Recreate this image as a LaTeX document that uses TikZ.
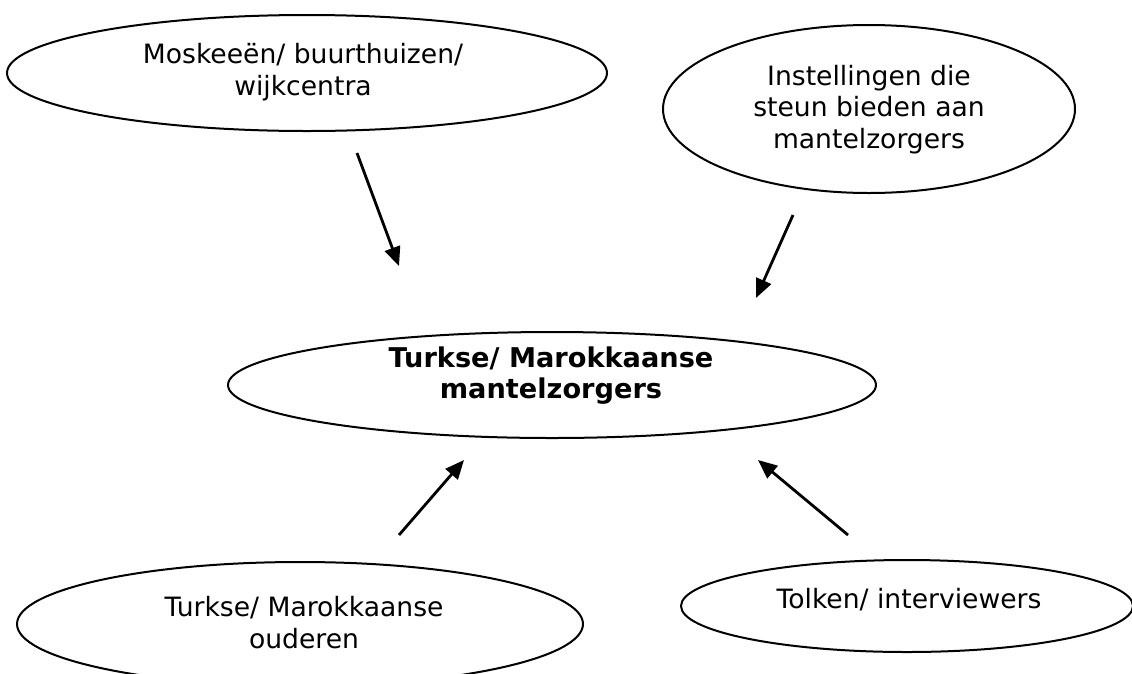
\documentclass[tikz,border=0pt]{standalone}
\usepackage{fontspec}
\setmainfont{DejaVu Sans}
\usetikzlibrary{shapes.geometric,arrows.meta}
\begin{document}
\begin{tikzpicture}[x=1pt,y=-1pt,
  oval/.style={draw=black,line width=2pt,ellipse,inner sep=0pt},
  txt/.style={inner sep=0pt,align=center,anchor=base,
    font=\fontsize{26.6}{31.5}\selectfont},
  btxt/.style={txt,font=\fontsize{27.2}{30.5}\selectfont\bfseries},
  arr/.style={line width=2.8pt,-{Triangle[length=19pt,width=16pt]}}]
\useasboundingbox (0,0) rectangle (1132,673);
\node[oval,minimum width=600pt,minimum height=116pt] (mos) at (307,73) {};
\node[oval,minimum width=412pt,minimum height=168pt] (inst) at (869,109) {};
\node[oval,minimum width=648pt,minimum height=106pt] (mz) at (552,385) {};
\node[oval,minimum width=566pt,minimum height=124pt] (oud) at (300,624) {};
\node[oval,minimum width=452pt,minimum height=92pt] (tolk) at (907,606) {};
\node[txt] (mos-t) at (303,95) {Moskeeën/ buurthuizen/\\wijkcentra};
\node[txt] (inst-t) at (869,148) {Instellingen die\\steun bieden aan\\mantelzorgers};
\node[btxt] (mz-t) at (551,398) {Turkse/ Marokkaanse\\mantelzorgers};
\node[txt] (oud-t) at (304,648) {Turkse/ Marokkaanse\\ouderen};
\node[txt] (tolk-t) at (909,608) {Tolken/ interviewers};
\coordinate (a1s) at (357,153); \coordinate (a1e) at (399,266);
\coordinate (a2s) at (793,215); \coordinate (a2e) at (756,298);
\coordinate (a3s) at (399,535); \coordinate (a3e) at (464,460);
\coordinate (a4s) at (848,535); \coordinate (a4e) at (758,460);
\draw[arr] (a1s) -- (a1e);
\draw[arr] (a2s) -- (a2e);
\draw[arr] (a3s) -- (a3e);
\draw[arr] (a4s) -- (a4e);
\end{tikzpicture}
\end{document}
